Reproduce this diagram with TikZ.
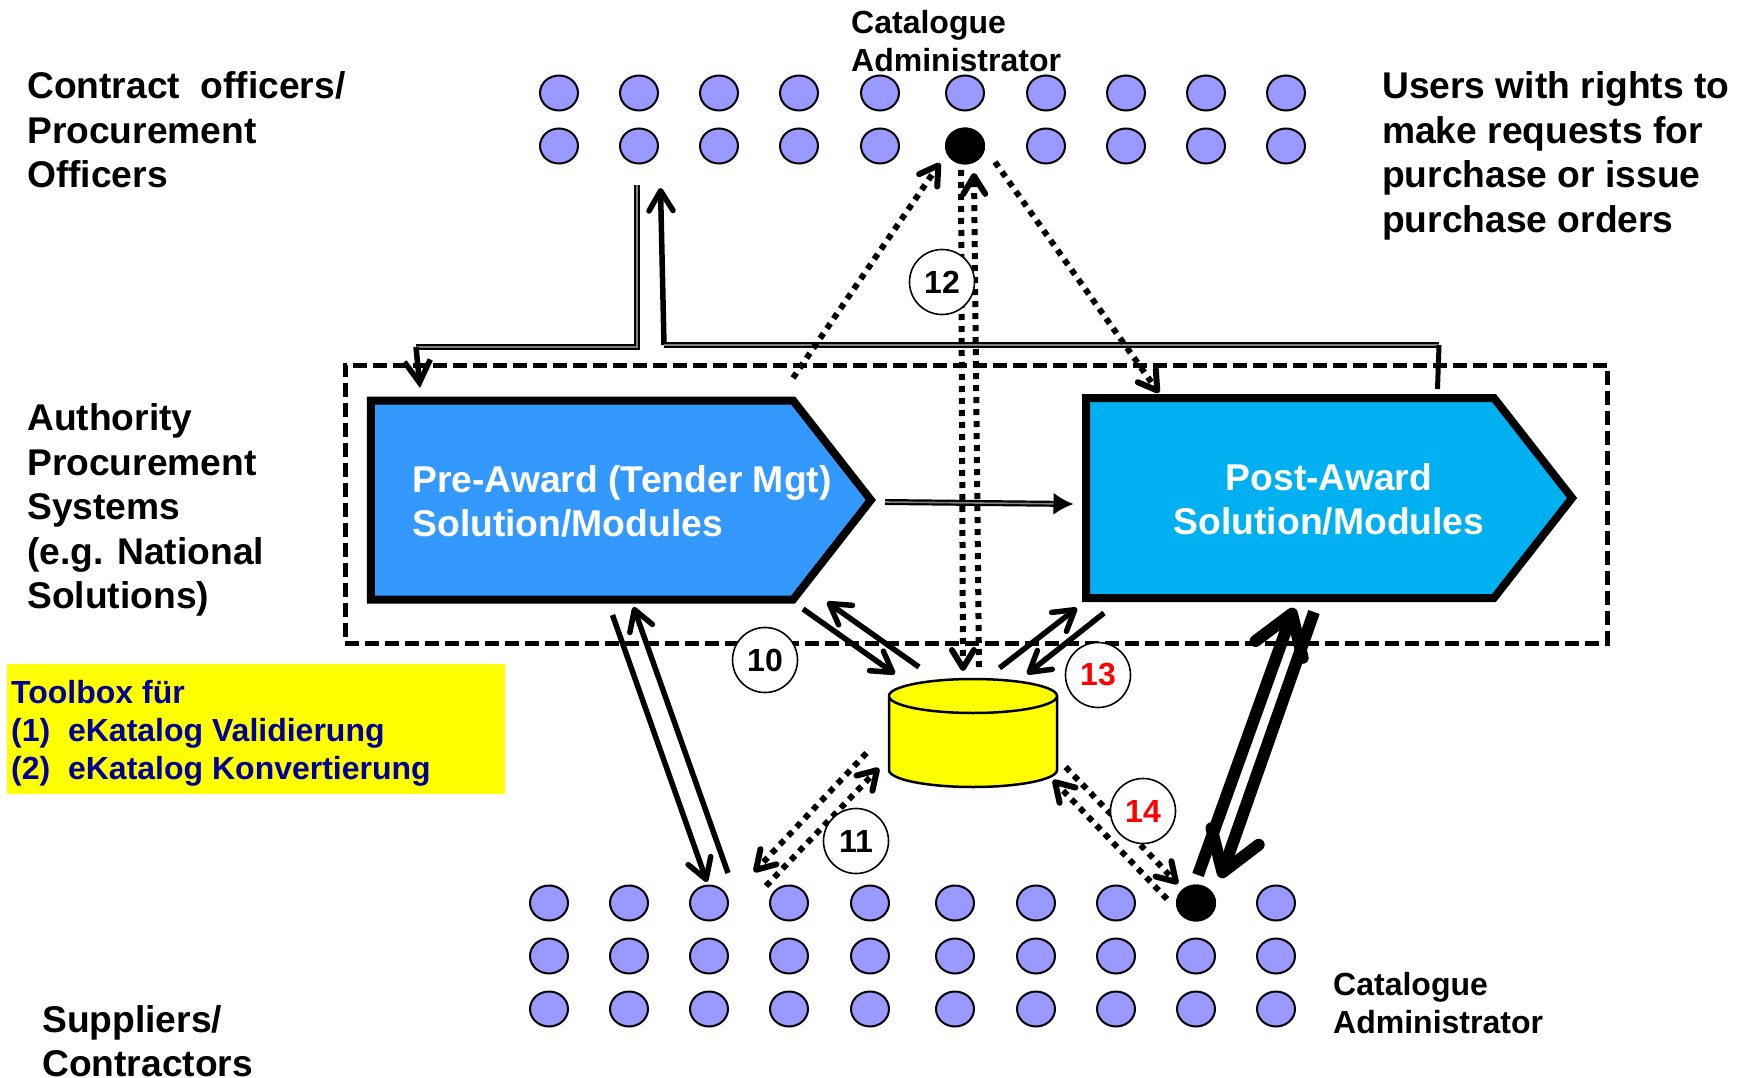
\documentclass[tikz,border=0pt]{standalone}
\usepackage{fontspec}
\setmainfont{Liberation Sans}
\usetikzlibrary{shapes,arrows.meta,positioning}
\definecolor{dotblue}{HTML}{9999FF}
\definecolor{preblue}{HTML}{3399FF}
\definecolor{postblue}{HTML}{00B0F0}
\definecolor{toolblue}{HTML}{000099}
\definecolor{fullyellow}{RGB}{255,255,0}
\begin{document}
\begin{tikzpicture}[x=1pt,y=-1pt,line join=miter]
\tikzstyle{every node}=[font=\bfseries]
\tikzstyle{dotnode}=[ellipse,draw,line width=2pt,fill=dotblue,minimum width=38pt,minimum height=35pt,inner sep=0pt]
\tikzstyle{catnode}=[dotnode,fill=black]
\tikzstyle{biglabel}=[anchor=west,align=left,inner sep=0pt,font=\fontsize{37.2}{44.5}\selectfont\bfseries]
\tikzstyle{smalllabel}=[anchor=west,align=left,inner sep=0pt,font=\fontsize{32}{38}\selectfont\bfseries]
\tikzstyle{stepnum}=[circle,draw,line width=1.6pt,fill=white,minimum size=65pt,inner sep=0pt,font=\fontsize{32}{32}\selectfont\bfseries]
\tikzstyle{solution}=[signal,signal to=east,signal pointer angle=104,draw,line width=8pt,inner sep=0pt]
\tikzstyle{solutiontxt}=[text=white,inner sep=0pt,font=\fontsize{37.3}{44}\selectfont\bfseries]
\tikzstyle{flow}=[line width=5.5pt,-{Straight Barb[length=20pt,width=24pt,round]}]
\tikzstyle{dotflow}=[line width=6pt,dash pattern=on 6pt off 6pt,-{Straight Barb[length=18pt,width=22pt,round]}]
\tikzstyle{heavy}=[line width=12pt,-{Straight Barb[length=38pt,width=50pt,round]}]
\tikzstyle{piped}=[line width=2.2pt,double=gray,double distance=1.6pt]
\useasboundingbox (0,0) rectangle (1746,1078);
% people on top and at the bottom
\foreach \n/\x in {1/559,2/639,3/719,4/799,5/880,6/965,7/1046,8/1126,9/1206,10/1286}{
  \path node[dotnode] at (\x,93) (ta\n) {};
  \path node[dotnode] at (\x,146) (tb\n) {};
}
\foreach \n/\x in {1/549,2/629,3/709,4/789,5/870,6/955,7/1036,8/1116,9/1196,10/1276}{
  \path node[dotnode] at (\x,903) (ba\n) {};
  \path node[dotnode] at (\x,956) (bb\n) {};
  \path node[dotnode] at (\x,1009) (bc\n) {};
}
\path node[catnode] at (965,146) (cattop) {};
\path node[catnode] at (1196,903) (catbot) {};
% systems
\path node[draw,line width=5pt,dash pattern=on 14pt off 6pt,minimum width=1262pt,minimum height=278pt,inner sep=0pt] at (976,504) (sys) {};
\path node[solution,fill=preblue,minimum width=500pt,minimum height=199pt] at (582,500) (pre) {};
\path node[solution,fill=postblue,minimum width=486pt,minimum height=200pt] at (1290,498) (post) {};
\path node[solutiontxt,align=left] at (622,501) (pretxt) {Pre-Award (Tender Mgt)\\Solution/Modules};
\path node[solutiontxt,align=center] at (1329,499) (posttxt) {Post-Award\\Solution/Modules};
\path node[cylinder,shape border rotate=90,shape aspect=1,draw,line width=2.5pt,cylinder uses custom fill,cylinder end fill=fullyellow,cylinder body fill=fullyellow,minimum width=168pt,minimum height=108pt,inner sep=17pt,anchor=shape center] at (973,733) (db) {};
% texts
\path node[biglabel] at (27,130) (coff) {Contract\ \ officers/\\Procurement\\Officers};
\path node[biglabel] at (1382,156) (users) {Users with rights to\\make requests for\\purchase or issue\\purchase orders};
\path node[biglabel] at (27,510) (aps) {Authority\\Procurement\\Systems\\(e.g. National\\Solutions)};
\path node[biglabel] at (42,1041) (supp) {Suppliers/\\Contractors};
\path node[smalllabel] at (851,41) (cata) {Catalogue\\Administrator};
\path node[smalllabel] at (1333,1003) (catb) {Catalogue\\Administrator};
\path node[fill=fullyellow,minimum width=498pt,minimum height=130pt,inner sep=0pt] at (256,729) (tool) {};
\path node[smalllabel,text=toolblue] at (11,733) (tooltxt) {Toolbox für\\(1)\ \ eKatalog Validierung\\(2)\ \ eKatalog Konvertierung};
% contract officers and the two systems
\coordinate (bendl) at (637,347);
\coordinate (bendll) at (416,347);
\coordinate (bendr) at (664,345);
\coordinate (bendrr) at (1439,345);
\draw[piped] ([shift={(-2,39)}]tb2.center) -- (bendl) -- (bendll);
\draw[line width=5.5pt,-{Straight Barb[length=22pt,width=26pt]}] (bendll) -- ([shift={(-162,-112)}]pre.center);
\draw[flow] (bendr) -- ([shift={(21.5,42)}]tb2.center);
\draw[piped] (bendr) -- (bendrr);
\draw[line width=5pt] (bendrr) -- ([shift={(147.5,-109)}]post.center);
\draw[piped,-{Latex[length=20pt,width=22pt]}] ([shift={(303,2)}]pre.center) -- ([shift={(-216.5,6)}]post.center);
% catalogue administrator on top
\draw[dotflow] ([shift={(211,-122)}]pre.center) -- ([shift={(-25,17)}]cattop.center);
\draw[dotflow] ([shift={(30,16)}]cattop.center) -- ([shift={(-131,-105)}]post.center);
\draw[dotflow] ([shift={(-4,24)}]cattop.center) -- ([shift={(-10,-62)}]db.shape center);
\draw[dotflow] ([shift={(6,-66)}]db.shape center) -- ([shift={(9,27)}]cattop.center);
% data store
\draw[flow] ([shift={(221,109)}]pre.center) -- ([shift={(-78,-59)}]db.shape center);
\draw[flow] ([shift={(-54,-66)}]db.shape center) -- ([shift={(245,102)}]pre.center);
\draw[flow] ([shift={(26.5,-65)}]db.shape center) -- ([shift={(-213,110)}]post.center);
\draw[flow] ([shift={(-186,115)}]post.center) -- ([shift={(54,-59)}]db.shape center);
\draw[dotflow] ([shift={(-106.5,20)}]db.shape center) -- ([shift={(-35,-31)}]ba4.center);
\draw[dotflow] ([shift={(-23,-17)}]ba4.center) -- ([shift={(-94,35)}]db.shape center);
\draw[dotflow] ([shift={(92.6,34)}]db.shape center) -- ([shift={(-18,-19)}]catbot.center);
\draw[dotflow] ([shift={(-29,-4)}]catbot.center) -- ([shift={(80,47)}]db.shape center);
% suppliers
\draw[flow] ([shift={(30.5,115)}]pre.center) -- ([shift={(-2,-21)}]ba3.center);
\draw[flow] ([shift={(19,-30)}]ba3.center) -- ([shift={(51.5,107)}]pre.center);
\draw[heavy] ([shift={(2,-28)}]catbot.center) -- ([shift={(4,110)}]post.center);
\draw[heavy] ([shift={(24,114)}]post.center) -- ([shift={(24.5,-25)}]catbot.center);
% numbers
\path node[stepnum] at (942,282) (n12) {12};
\path node[stepnum] at (765,660) (n10) {10};
\path node[stepnum,text=red] at (1098,675) (n13) {13};
\path node[stepnum] at (856,841) (n11) {11};
\path node[stepnum,text=red] at (1143,811) (n14) {14};
\end{tikzpicture}
\end{document}
